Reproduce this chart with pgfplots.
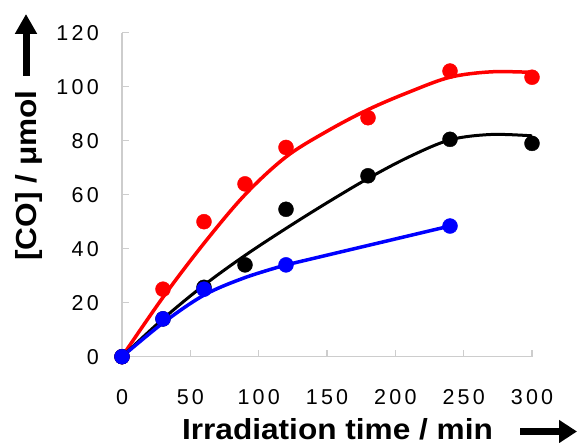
\documentclass[border=0pt]{standalone}
\usepackage{graphicx}
\usepackage{pgfplots}
\pgfplotsset{compat=1.18}
\usepackage{fontspec}
\setmainfont{Liberation Sans}
\newfontfamily\tickfont[LetterSpace=15]{Liberation Sans}
\usetikzlibrary{arrows.meta}
\definecolor{axgray}{RGB}{205,205,205}
\definecolor{cred}{RGB}{255,0,0}
\definecolor{cblue}{RGB}{0,0,255}
\begin{document}
\begin{tikzpicture}
\useasboundingbox (0,0) rectangle (577pt,443pt);
\begin{axis}[
  at={(122pt,86.3pt)}, anchor=south west,
  scale only axis, width=410pt, height=324pt,
  xmin=0, xmax=300, ymin=0, ymax=120,
  axis x line*=bottom, axis y line*=left,
  axis line style={axgray, line width=1.2pt, -},
  xtick={0,50,...,300}, ytick={0,20,...,120},
  tick align=inside, major tick length=7pt,
  tick style={axgray, line width=1.2pt},
  /pgf/number format/assume math mode=true,
  ticklabel style={font=\tickfont\fontsize{21.5}{24}\selectfont},
  xticklabel style={anchor=center, yshift=-40pt},
  yticklabel style={anchor=east, inner ysep=0pt, inner xsep=23pt},
  clip=false,
]
% fitted curves
\addplot[cred, line width=3.5pt, smooth, tension=0.55] coordinates {(0,0)(30,22)(60,42)(90,60)(120,74)(150,83.5)(180,91.5)(210,98)(240,103.5)(270,105.5)(300,105.3)};
\addplot[black, line width=3pt, smooth, tension=0.55] coordinates {(0,0)(30,14)(60,26.5)(90,37.5)(120,47.5)(150,57)(180,66)(210,74)(240,80.3)(270,82.3)(300,81.8)};
\addplot[cblue, line width=3.5pt, smooth, tension=0.55] coordinates {(0,0)(30,12.5)(60,22.8)(90,29.3)(120,34)};
\addplot[cblue, line width=3.5pt] coordinates {(120,34)(240,48.4)};
% data points
\addplot[only marks, mark=*, mark size=7.5pt, cred, mark options={draw=none, fill=cred}] coordinates {(0,0)(30,25)(60,50)(90,64)(120,77.5)(180,88.5)(240,105.8)(300,103.5)};
\addplot[only marks, mark=*, mark size=7.5pt, black, mark options={draw=none, fill=black}] coordinates {(0,0)(30,14)(60,25.7)(90,34)(120,54.6)(180,67)(240,80.5)(300,79)};
\addplot[only marks, mark=*, mark size=7.5pt, cblue, mark options={draw=none, fill=cblue}] coordinates {(0,0)(30,14)(60,25)(120,34)(240,48.4)};
\end{axis}
\node[anchor=base, inner sep=0pt, text depth=0pt] at (337.5pt,3pt) {\scalebox{1.09}[1]{\fontsize{29}{32}\selectfont\bfseries Irradiation time / min}};
\node[rotate=90, anchor=base] at (36.5pt,267.5pt) {\scalebox{1.09}[1]{\fontsize{29}{32}\selectfont\bfseries [CO] / μmol}};
\draw[line width=7pt, -{Triangle[length=20pt, width=21pt]}] (26pt,367pt) -- (26pt,429pt);
\draw[line width=7.5pt, -{Triangle[length=18pt, width=22pt]}] (520pt,11.5pt) -- (577pt,11.5pt);
\end{tikzpicture}
\end{document}
